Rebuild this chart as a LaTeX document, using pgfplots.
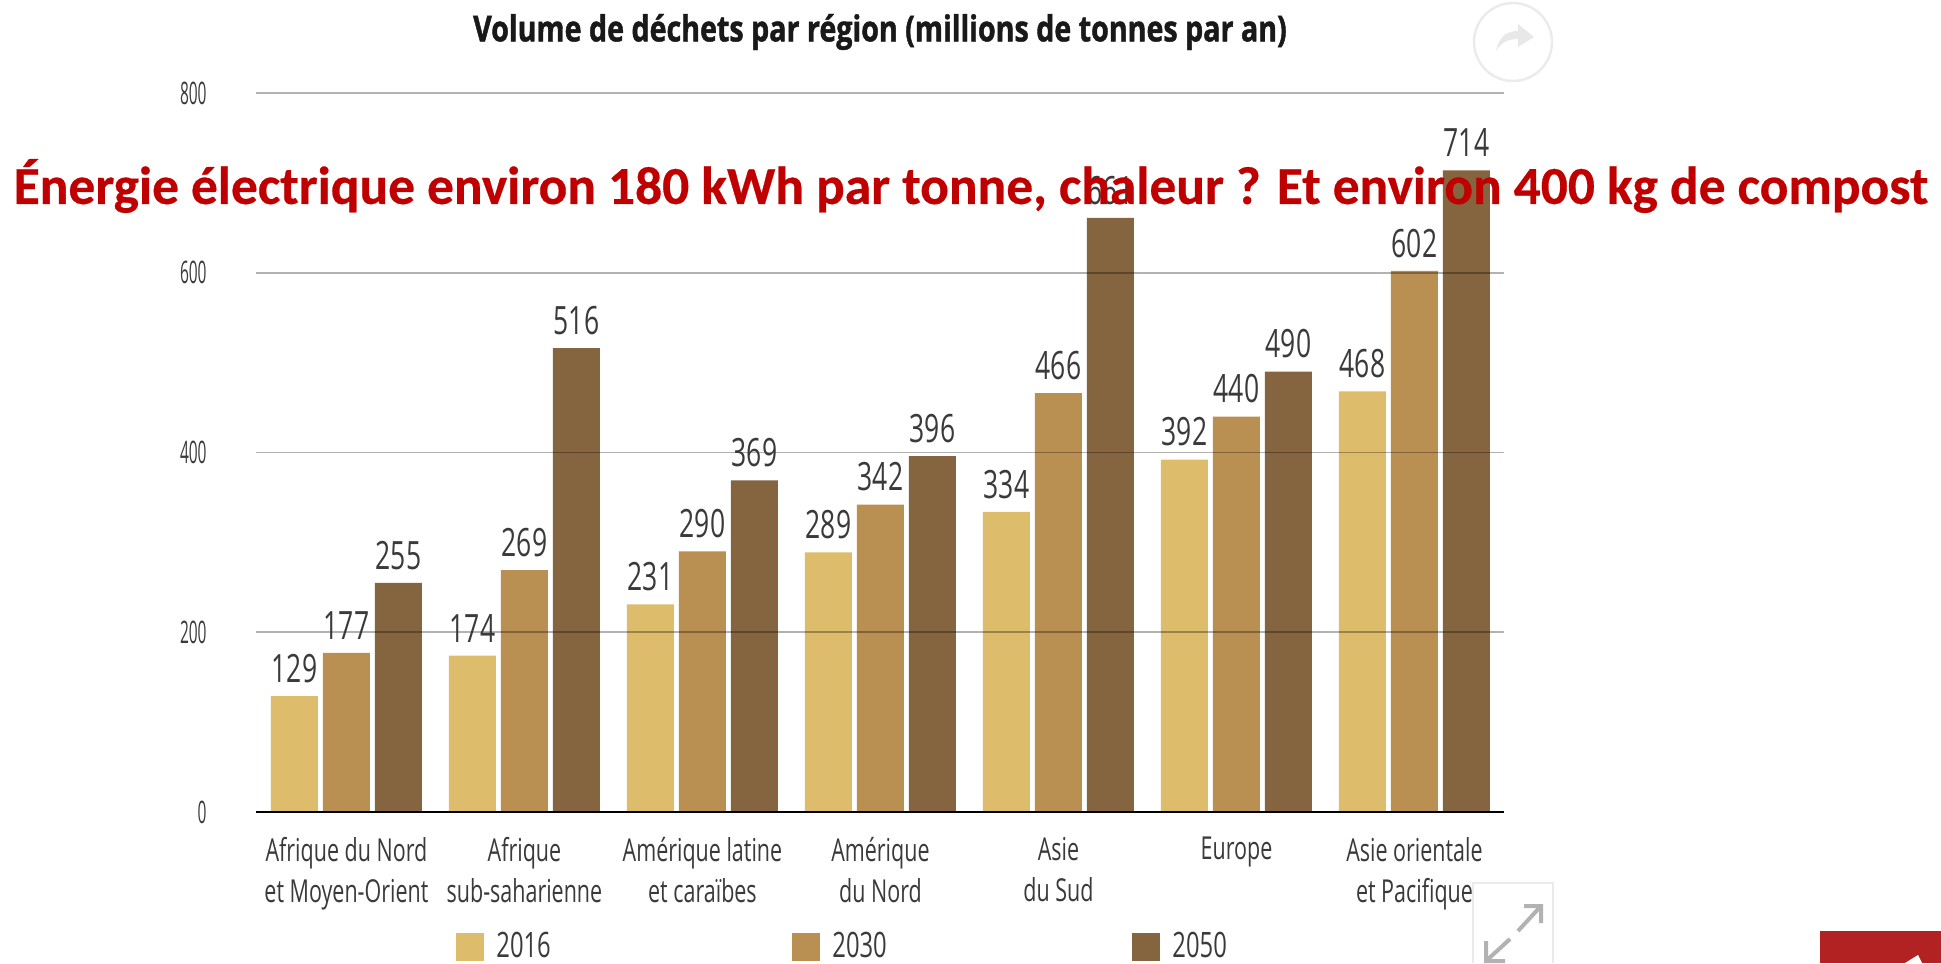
\documentclass[border=0pt]{standalone}
\usepackage{pgfplots}
\pgfplotsset{compat=1.18}
\usepackage{fontspec}
\setmainfont[FakeStretch=0.68]{Open Sans}
\newfontfamily\redfont[BoldFeatures={FakeBold=0.5}]{Carlito}
\newfontfamily\titlefont[FakeStretch=0.80,BoldFeatures={FakeBold=1.2}]{Open Sans}
\newfontfamily\tickfont[FakeStretch=0.50]{Open Sans}
\definecolor{cA}{HTML}{DDBD6C}
\definecolor{cB}{HTML}{BA8F52}
\definecolor{cC}{HTML}{84653F}
\definecolor{txt}{HTML}{3A3A3A}
\definecolor{redt}{HTML}{C00000}
\definecolor{redbox}{HTML}{B22222}
\begin{document}
\begin{tikzpicture}[x=0.5pt,y=0.5pt]
\path[use as bounding box,clip] (0,0) rectangle (1941,963);
\fill[white] (0,0) rectangle (1941,963);
\begin{axis}[
  at={(128pt,75.5pt)}, anchor=south west,
  scale only axis, width=624pt, height=359.5pt,
  xmin=-0.508, xmax=6.503, ymin=0, ymax=800,
  axis x line=bottom, axis y line=left,
  x axis line style={black,line width=1pt,-},
  y axis line style={draw=none},
  axis on top,
  xtick=data,
  xticklabels={{Afrique du Nord\\et Moyen-Orient},{Afrique\\sub-saharienne},{Amérique latine\\et caraïbes},{Amérique\\du Nord},{Asie\\du Sud},{Europe},{Asie orientale\\et Pacifique}},
  xticklabel style={align=center,anchor=north,yshift=-9pt,text=txt,font=\fontsize{15.8}{20.5}\selectfont},
  major tick length=0pt,
  ymajorgrids, ytick={0,200,400,600,800},
  yticklabel style={anchor=east,inner sep=0pt,xshift=-24.5pt,text=txt,font=\tickfont\fontsize{15.5}{16}\selectfont,/pgf/number format/assume math mode=true},
  grid style={draw=black,opacity=0.3,line width=0.8pt},
  ybar, bar width=23.5pt,
  every axis plot/.append style={draw=none},
  nodes near coords,
  nodes near coords style={font=\fontsize{19.5}{20}\selectfont,text=txt,inner sep=1pt,yshift=5.5pt,/pgf/number format/fixed,/pgf/number format/1000 sep={},/pgf/number format/assume math mode=true},
  legend style={at={(0,0)},anchor=north west,xshift=100pt,yshift=-58pt,draw=none,fill=none,inner sep=0pt,legend columns=3,font=\fontsize{17.5}{16}\selectfont,text=txt,
    /tikz/every even column/.append style={column sep=0pt},row sep=0pt},
  legend cell align=left,
  area legend,
  legend image code/.code={\fill[#1] (0,-7pt) rectangle (14pt,7pt);},
  clip=false,
]
\addplot[fill=cA,bar shift=-26pt] coordinates {(0,129)(1,174)(2,231)(3,289)(4,334)(5,392)(6,468)};
\addplot[fill=cB,bar shift=0pt] coordinates {(0,177)(1,269)(2,290)(3,342)(4,466)(5,440)(6,602)};
\addplot[fill=cC,bar shift=26pt] coordinates {(0,255)(1,516)(2,369)(3,396)(4,661)(5,490)(6,714)};
\legend{\makebox[150pt][l]{\hspace{4pt}2016},\makebox[152pt][l]{\hspace{4pt}2030},\makebox[30pt][l]{\hspace{4pt}2050}}
\end{axis}
\node[font=\titlefont\bfseries\fontsize{17.9}{19}\selectfont,text=black!90] at (880,931) {Volume de déchets par région (millions de tonnes par an)};
\node[font=\redfont\bfseries\fontsize{26.7}{28}\selectfont,text=redt,inner sep=0pt] at (971,777) {Énergie électrique environ 180 kWh par tonne, chaleur ? Et environ 400 kg de compost};
% interface elements of the screenshot
\draw[black!8,line width=1.2pt,fill=white] (1513,921) ellipse (39 and 39);
\fill[black!9] (1496,912) .. controls (1500,930) and (1510,932) .. (1518,932) -- (1518,939) -- (1534,926) -- (1518,916) -- (1518,924) .. controls (1510,924) and (1502,922) .. (1496,912);
\fill[white] (1473,0) rectangle (1553,80);
\draw[black!8,line width=0.8pt] (1473,0) -- (1473,80) -- (1553,80) -- (1553,0);
\draw[black!30,line width=2pt] (1518,32) -- (1541,57) (1524,57) -- (1541,57) -- (1541,40);
\draw[black!30,line width=2pt] (1510,24) -- (1486,2) (1486,22) -- (1486,2) -- (1505,2);
\fill[redbox] (1820,0) rectangle (1941,32);
\fill[white] (1905,0) -- (1918,8) -- (1922,0) -- cycle;
\end{tikzpicture}
\end{document}
